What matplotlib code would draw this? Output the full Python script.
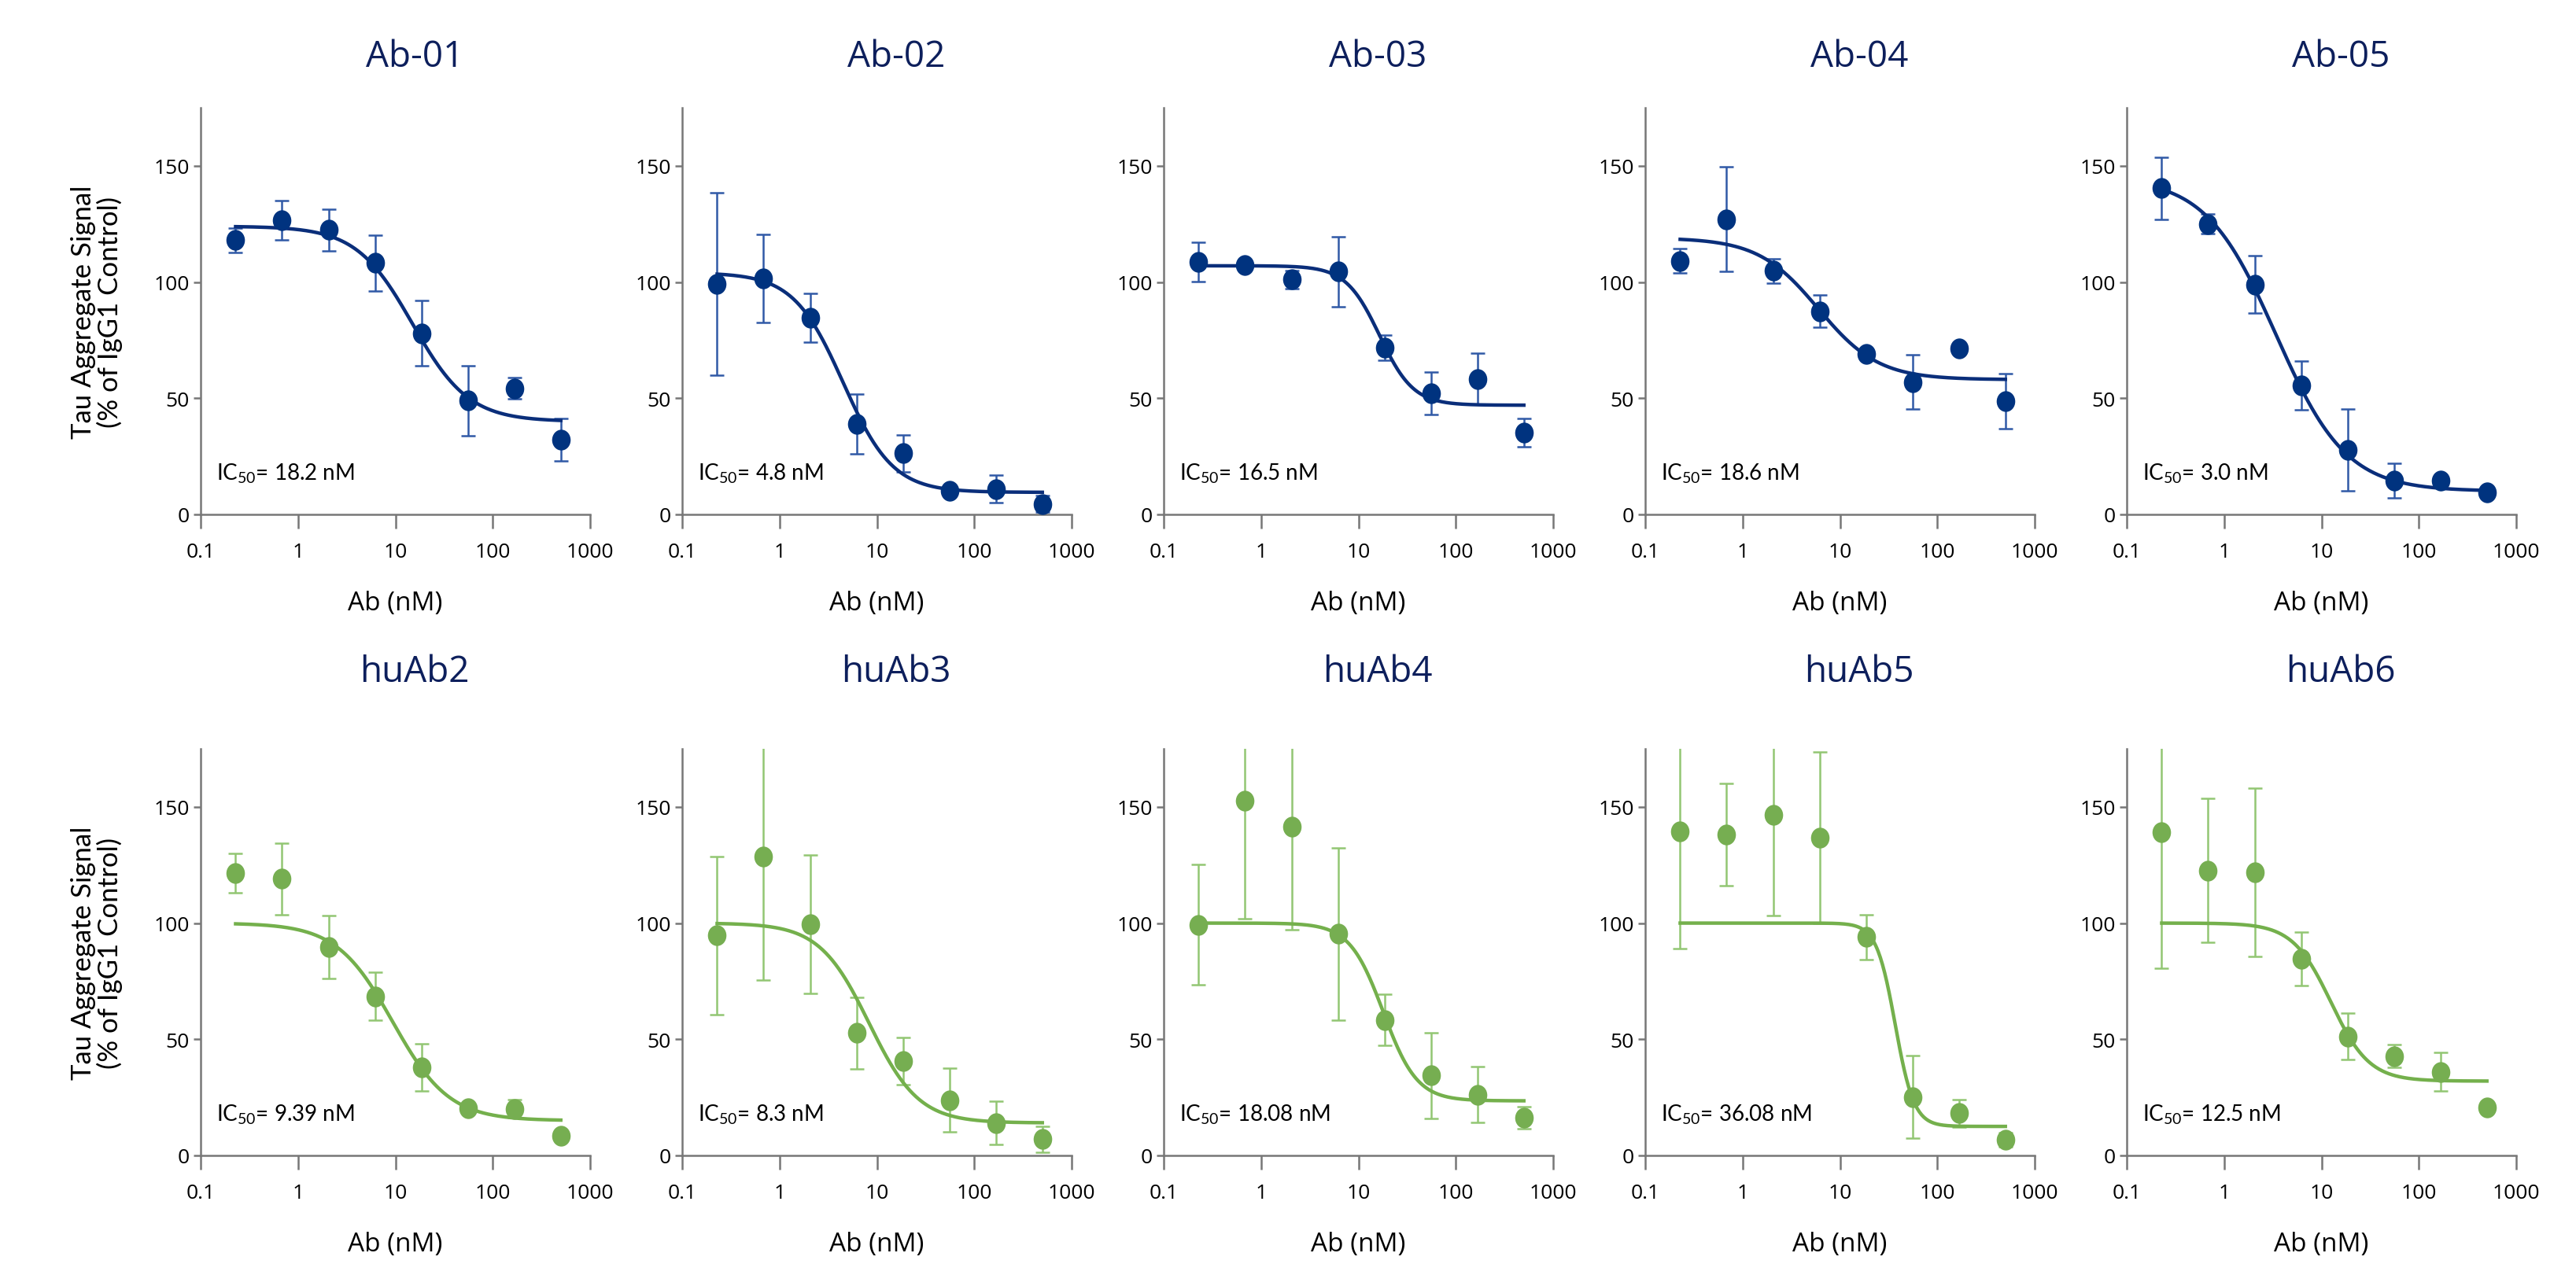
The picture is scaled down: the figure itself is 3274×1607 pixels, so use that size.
import numpy as np
import matplotlib.pyplot as plt
from matplotlib.markers import MarkerStyle
from matplotlib.transforms import Affine2D, blended_transform_factory

plt.rcParams['font.family'] = ['Open Sans', 'DejaVu Sans']
plt.rcParams['mathtext.default'] = 'regular'

# 3-fold dilution series (nM)
conc = [0.2286, 0.6859, 2.058, 6.173, 18.52, 55.56, 166.7, 500.0]

names = ['Ab-01', 'Ab-02', 'Ab-03', 'Ab-04', 'Ab-05',
         'huAb2', 'huAb3', 'huAb4', 'huAb5', 'huAb6']
ic50_text = ['18.2', '4.8', '16.5', '18.6', '3.0',
             '9.39', '8.3', '18.08', '36.08', '12.5']

# mean signal (% of IgG1 control) and error (+/-)
ab01 = [118.0, 126.6, 122.5, 108.2, 78.0, 49.0, 54.3, 32.1]
ab01_err = [5.3, 8.6, 9.0, 12.0, 14.0, 15.0, 4.5, 9.1]
ab02 = [99.2, 101.5, 84.6, 38.9, 26.3, 10.0, 11.0, 4.5]
ab02_err = [39.2, 19.0, 10.6, 13.0, 8.0, 2.0, 6.0, 3.5]
ab03 = [108.6, 107.2, 101.2, 104.5, 71.8, 52.1, 58.3, 35.2]
ab03_err = [8.5, 1.5, 3.9, 15.0, 5.4, 9.0, 11.0, 6.0]
ab04 = [109.1, 127.1, 104.8, 87.4, 69.0, 57.0, 71.3, 48.7]
ab04_err = [5.3, 22.4, 5.2, 6.9, 0, 11.7, 0, 11.9]
ab05 = [140.4, 125.0, 99.0, 55.5, 27.8, 14.6, 14.6, 9.5]
ab05_err = [13.4, 4.3, 12.4, 10.6, 17.5, 7.5, 1.5, 1.0]
huab2 = [121.6, 119.0, 89.8, 68.5, 37.9, 20.4, 20.1, 8.5]
huab2_err = [8.4, 15.5, 13.6, 10.2, 10.1, 1.5, 4.0, 1.0]
huab3 = [94.7, 128.6, 99.5, 52.7, 40.5, 23.8, 14.0, 7.0]
huab3_err = [34.0, 53.1, 29.7, 15.5, 10.2, 13.8, 9.3, 5.5]
huab4 = [99.3, 152.7, 141.6, 95.3, 58.3, 34.4, 26.1, 16.2]
huab4_err = [26.0, 50.7, 44.3, 37.2, 11.0, 18.5, 12.0, 4.7]
huab5 = [139.5, 138.1, 146.6, 136.9, 94.0, 25.2, 18.2, 6.8]
huab5_err = [50.6, 21.9, 43.4, 36.9, 9.6, 17.9, 5.9, 3.0]
huab6 = [139.1, 122.7, 121.9, 84.5, 51.2, 42.8, 36.0, 20.5]
huab6_err = [58.5, 31.0, 36.3, 11.5, 10.0, 4.9, 8.4, 0]

means = [ab01, ab02, ab03, ab04, ab05, huab2, huab3, huab4, huab5, huab6]
errs = [ab01_err, ab02_err, ab03_err, ab04_err, ab05_err,
        huab2_err, huab3_err, huab4_err, huab5_err, huab6_err]

# 4-parameter logistic fit parameters
fit_top = [124, 104, 107, 119, 145, 100, 100, 100, 100, 100]
fit_bottom = [40, 9.5, 47, 58, 10, 15, 14, 23.5, 12.5, 32]
fit_ec50 = [15, 4.5, 16.5, 6, 3.4, 9.39, 8.3, 18, 37, 12.5]
fit_hill = [1.5, 1.7, 2.5, 1.4, 1.2, 1.5, 1.7, 2.5, 4.5, 2.2]

navy_pt, navy_err, navy_line = '#00337f', '#3059a6', '#0a2e7a'
green_pt, green_err, green_line = '#76ae51', '#92c673', '#74b04c'
title_col = '#0d1f5c'

fig = plt.figure(figsize=(16.37, 8.04), dpi=200)
W, H = 3274, 1608
ax_w, ax_h = 495, 517
lefts = [255 + 612 * i for i in range(5)]
bottoms = [655, 1470]
title_pad = [19, 31]

dot = MarkerStyle('o', transform=Affine2D().scale(0.88, 1.0))
xfit = np.logspace(np.log10(conc[0]), np.log10(conc[-1]), 300)

for k in range(10):
    row, col = divmod(k, 5)
    ax = fig.add_axes([lefts[col] / W, (H - bottoms[row]) / H, ax_w / W, ax_h / H])
    if row == 0:
        pc, ec, lc = navy_pt, navy_err, navy_line
    else:
        pc, ec, lc = green_pt, green_err, green_line

    yfit = fit_bottom[k] + (fit_top[k] - fit_bottom[k]) / (1 + (xfit / fit_ec50[k]) ** fit_hill[k])
    ax.errorbar(conc, means[k], yerr=errs[k], fmt='none', ecolor=ec,
                elinewidth=0.9, capsize=3.2, capthick=0.9, zorder=2)
    ax.plot(xfit, yfit, color=lc, lw=1.6, zorder=3)
    ax.plot(conc, means[k], ls='none', marker=dot, markersize=8.5,
            color=pc, zorder=4)

    ax.set_xscale('log')
    ax.set_xlim(0.1, 1000)
    ax.set_ylim(0, 175)
    ax.set_xticks([0.1, 1, 10, 100, 1000])
    ax.set_xticklabels(['0.1', '1', '10', '100', '1000'])
    ax.minorticks_off()
    ax.set_yticks([0, 50, 100, 150])
    for s in ['top', 'right']:
        ax.spines[s].set_visible(False)
    for s in ['left', 'bottom']:
        ax.spines[s].set_color('#777777')
        ax.spines[s].set_linewidth(0.9)
    ax.tick_params(axis='x', direction='out', length=6.5, width=0.9,
                   color='#777777', labelsize=9.5, pad=6)
    ax.tick_params(axis='y', direction='out', length=3.2, width=0.9,
                   color='#777777', labelsize=9.5, pad=2)

    ax.set_xlabel('Ab (nM)', fontsize=12, labelpad=13)
    ax.set_title(names[k], fontsize=16.5, color=title_col, pad=title_pad[row], x=0.55)
    trans = blended_transform_factory(ax.transAxes, ax.transData)
    ax.text(0.04, 18, 'IC$_{50}$= ' + ic50_text[k] + ' nM', transform=trans,
            fontsize=10, family=['Lato', 'DejaVu Sans'], va='center', ha='left')
    if col == 0:
        ax.set_ylabel('Tau Aggregate Signal\n(% of IgG1 Control)', fontsize=12.5,
                      family=['Lato', 'DejaVu Sans'], linespacing=1.05)
        ax.yaxis.set_label_coords(-0.2, 0.5)

fig.savefig('out.png', dpi=200)
